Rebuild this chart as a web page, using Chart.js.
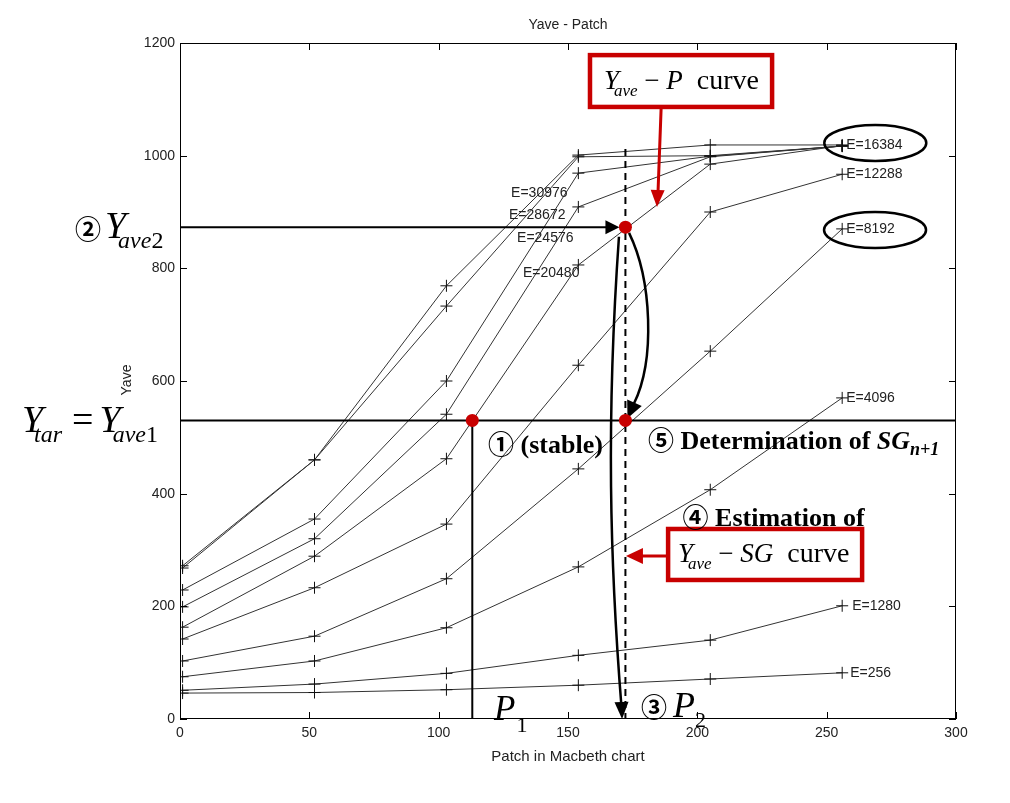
<!DOCTYPE html>
<html>
<head>
<meta charset="utf-8">
<script src="https://cdn.jsdelivr.net/npm/chart.js@4.4.0/dist/chart.umd.min.js"></script>
<style>
  html, body { margin: 0; padding: 0; background: #fff; }
</style>
</head>
<body>
<canvas id="chart" width="1010" height="803"></canvas>
<script>
// patch index in the Macbeth chart (x) and Yave per exposure (y)
const patches = [1, 52, 103, 154, 205, 256]
const exposures = [30976, 28672, 24576, 20480, 16384, 12288, 8192, 4096, 1280, 256]

const yaveE30976 = [272, 460, 769, 1001, 1019, 1019]
const yaveE28672 = [268, 460, 733, 998, 1000, 1017]
const yaveE24576 = [229, 355, 600, 969, 999, 1017]
const yaveE20480 = [199, 320, 541, 909, 998, 1017]
const yaveE16384 = [163, 289, 462, 806, 985, 1018]
const yaveE12288 = [142, 233, 346, 628, 900, 967]
const yaveE8192 = [103, 147, 249, 444, 653, 870]
const yaveE4096 = [75, 103, 162, 270, 407, 570]
const yaveE1280 = [51, 62, 81, 113, 140, 201]
const yaveE256 = [46, 47, 52, 60, 71, 82]

const xTicks = [0, 50, 100, 150, 200, 250, 300]
const yTicks = [0, 200, 400, 600, 800, 1000, 1200]

// values used by the hand drawn explanation
const yTar = 530
const yAve2 = 873
const p1 = 113
const p2 = 172.2

const seriesList = [yaveE30976, yaveE28672, yaveE24576, yaveE20480, yaveE16384,
  yaveE12288, yaveE8192, yaveE4096, yaveE1280, yaveE256]

const sans = "'Liberation Sans', Arial, sans-serif"
const serif = "'Liberation Serif', 'Times New Roman', serif"
const circ = "'Noto Sans CJK JP', 'DejaVu Sans', sans-serif"

// label placement: right labels sit after the last point, left ones float by the curves
const rightLabels = { 16384: 4, 12288: 4, 8192: 4, 4096: 4, 1280: 10, 256: 8 }
const leftLabels = [
  { e: 30976, x: 128.0, y: 934 },
  { e: 28672, x: 127.2, y: 895 },
  { e: 24576, x: 130.3, y: 854 },
  { e: 20480, x: 132.6, y: 792 }
]

function arrowHead(ctx, tx, ty, fx, fy, len, half, color) {
  const a = Math.atan2(ty - fy, tx - fx)
  const bx = tx - len * Math.cos(a), by = ty - len * Math.sin(a)
  ctx.save()
  ctx.fillStyle = color
  ctx.beginPath()
  ctx.moveTo(tx, ty)
  ctx.lineTo(bx + half * Math.sin(a), by - half * Math.cos(a))
  ctx.lineTo(bx - half * Math.sin(a), by + half * Math.cos(a))
  ctx.closePath()
  ctx.fill()
  ctx.restore()
}

function rich(ctx, x, y, parts) {
  let cx = x
  parts.forEach(p => {
    ctx.font = p.font
    cx += p.dx || 0
    ctx.fillText(p.t, cx, y + (p.dy || 0))
    cx += ctx.measureText(p.t).width
  })
}

const framePlugin = {
  id: 'frame',
  afterDatasetsDraw(chart) {
    const { ctx, chartArea: a, scales } = chart
    ctx.save()
    ctx.strokeStyle = '#000'
    ctx.lineWidth = 1
    ctx.strokeRect(a.left + 0.5, a.top + 0.5, a.right - a.left - 1, a.bottom - a.top - 1)
    ctx.beginPath()
    xTicks.forEach(v => {
      const px = Math.round(scales.x.getPixelForValue(v)) + 0.5
      ctx.moveTo(px, a.bottom); ctx.lineTo(px, a.bottom - 7)
      ctx.moveTo(px, a.top); ctx.lineTo(px, a.top + 7)
    })
    yTicks.forEach(v => {
      const py = Math.round(scales.y.getPixelForValue(v)) + 0.5
      ctx.moveTo(a.left, py); ctx.lineTo(a.left + 7, py)
      ctx.moveTo(a.right, py); ctx.lineTo(a.right - 7, py)
    })
    ctx.stroke()

    // title and axis titles
    ctx.fillStyle = '#222'
    ctx.textAlign = 'center'
    ctx.textBaseline = 'middle'
    ctx.font = '14px ' + sans
    ctx.fillText('Yave - Patch', (a.left + a.right) / 2, 25)
    ctx.font = '15px ' + sans
    ctx.fillText('Patch in Macbeth chart', (a.left + a.right) / 2, 757)
    ctx.save()
    ctx.translate(127, 380)
    ctx.rotate(-Math.PI / 2)
    ctx.font = '14px ' + sans
    ctx.fillText('Yave', 0, 0)
    ctx.restore()

    // E= labels
    ctx.textAlign = 'left'
    ctx.font = '14px ' + sans
    exposures.forEach((e, i) => {
      if (rightLabels[e] === undefined) return
      const pt = chart.getDatasetMeta(i).data[patches.length - 1]
      ctx.fillText('E=' + e, pt.x + rightLabels[e], pt.y)
    })
    leftLabels.forEach(l => {
      ctx.fillText('E=' + l.e, scales.x.getPixelForValue(l.x), scales.y.getPixelForValue(l.y))
    })
    ctx.restore()
  }
}

const notesPlugin = {
  id: 'notes',
  afterDraw(chart) {
    const { ctx, scales } = chart
    const X = v => scales.x.getPixelForValue(v)
    const Y = v => scales.y.getPixelForValue(v)
    const red = '#c80000'
    ctx.save()
    ctx.lineCap = 'butt'

    // target level and Yave2 arrow
    ctx.strokeStyle = '#000'
    ctx.lineWidth = 2
    ctx.beginPath()
    ctx.moveTo(X(0), Y(yTar)); ctx.lineTo(X(300), Y(yTar))
    ctx.moveTo(X(0), Y(yAve2)); ctx.lineTo(X(p2) - 14, Y(yAve2))
    ctx.moveTo(X(p1), Y(yTar)); ctx.lineTo(X(p1), Y(0))
    ctx.stroke()
    arrowHead(ctx, X(p2) - 6, Y(yAve2), X(0), Y(yAve2), 14, 7, '#000')

    // dashed P2 line
    ctx.setLineDash([7, 5])
    ctx.beginPath()
    ctx.moveTo(X(p2), Y(1012)); ctx.lineTo(X(p2), Y(0))
    ctx.stroke()
    ctx.setLineDash([])

    // long arrow down to P2
    ctx.lineWidth = 2.5
    ctx.beginPath()
    ctx.moveTo(X(169.7), Y(856))
    ctx.bezierCurveTo(X(164.7), Y(529), X(166.2), Y(280), X(170.7), Y(20))
    ctx.stroke()
    arrowHead(ctx, X(170.9), Y(0), X(170.2), Y(100), 17, 7, '#000')

    // estimation arrow back to target level
    ctx.beginPath()
    ctx.moveTo(X(173.6), Y(863))
    ctx.bezierCurveTo(X(182.5), Y(779), X(183.7), Y(637), X(175.5), Y(560))
    ctx.stroke()
    arrowHead(ctx, X(173.0), Y(534), X(178.5), Y(590), 17, 8, '#000')

    // red boxes and arrows
    ctx.strokeStyle = red
    ctx.lineWidth = 4.5
    ctx.strokeRect(X(158.5), Y(1178.5), X(228.9) - X(158.5), Y(1086.5) - Y(1178.5))
    ctx.strokeRect(X(188.7), Y(337.3), X(263.7) - X(188.7), Y(246.8) - Y(337.3))
    ctx.lineWidth = 3
    ctx.beginPath()
    ctx.moveTo(X(186.0), Y(1084)); ctx.lineTo(X(184.8), Y(935))
    ctx.moveTo(X(188.7), Y(289.4)); ctx.lineTo(X(177.5), Y(289.4))
    ctx.stroke()
    arrowHead(ctx, X(184.4), Y(909), X(186.0), Y(1084), 17, 7, red)
    arrowHead(ctx, X(172.4), Y(289.4), X(188.7), Y(289.4), 17, 8, red)

    // ellipses round two labels
    ctx.strokeStyle = '#000'
    ctx.lineWidth = 2.5
    ;[[268.8, 1022.5], [268.7, 868.1]].forEach(([cx, cy]) => {
      ctx.beginPath()
      ctx.ellipse(X(cx), Y(cy), 51, 18, 0, 0, Math.PI * 2)
      ctx.stroke()
    })

    // red points
    ctx.fillStyle = red
    ;[[p1, yTar], [p2, yAve2], [p2, yTar]].forEach(([x, y]) => {
      ctx.beginPath()
      ctx.arc(X(x), Y(y), 6.5, 0, Math.PI * 2)
      ctx.fill()
    })

    // texts
    ctx.fillStyle = '#000'
    ctx.textAlign = 'left'
    ctx.textBaseline = 'alphabetic'
    const it = s => 'italic ' + s + 'px ' + serif
    const rm = s => s + 'px ' + serif
    const bd = s => 'bold ' + s + 'px ' + serif
    const bi = s => 'italic bold ' + s + 'px ' + serif
    const ci = 'bold 26px ' + circ

    rich(ctx, X(-40.6), Y(853.7), [
      { t: '\u2461', font: ci, dy: 1 },
      { t: 'Y', font: it(38), dx: 4, dy: 0 },
      { t: 'ave', font: it(24), dx: -8, dy: 10 },
      { t: '2', font: rm(24), dy: 10 }
    ])
    rich(ctx, X(-61.1), Y(509.5), [
      { t: 'Y', font: it(38) },
      { t: 'tar', font: it(24), dx: -9, dy: 10 },
      { t: '=', font: rm(38), dx: 10 },
      { t: 'Y', font: it(38), dx: 6 },
      { t: 'ave', font: it(24), dx: -8, dy: 10 },
      { t: '1', font: rm(24), dy: 10 }
    ])
    rich(ctx, X(119.1), Y(472.2), [
      { t: '\u2460', font: ci, dy: 1 },
      { t: ' (stable)', font: bd(26) }
    ])
    rich(ctx, X(180.9), Y(479.3), [
      { t: '\u2464', font: ci, dy: 1 },
      { t: ' Determination of ', font: bd(26) },
      { t: 'SG', font: bi(26) },
      { t: 'n+1', font: bi(18), dy: 6 }
    ])
    rich(ctx, X(194.3), Y(342.6), [
      { t: '\u2463', font: ci, dy: 1 },
      { t: ' Estimation of', font: bd(26) }
    ])
    rich(ctx, X(163.9), Y(1118.4), [
      { t: 'Y', font: it(27) },
      { t: 'ave', font: it(17), dx: -5, dy: 7 },
      { t: ' \u2212 ', font: rm(27) },
      { t: 'P', font: it(27) },
      { t: '  curve', font: rm(28) }
    ])
    rich(ctx, X(192.5), Y(278.7), [
      { t: 'Y', font: it(27) },
      { t: 'ave', font: it(17), dx: -5, dy: 7 },
      { t: ' \u2212 ', font: rm(27) },
      { t: 'SG', font: it(27) },
      { t: '  curve', font: rm(28) }
    ])
    rich(ctx, X(121.4), Y(-1.8), [
      { t: 'P', font: it(35) },
      { t: '1', font: rm(22), dx: 1, dy: 12 }
    ])
    rich(ctx, X(178.2), Y(3.6), [
      { t: '\u2462', font: ci },
      { t: 'P', font: it(36), dx: 6 },
      { t: '2', font: rm(22), dx: 0, dy: 10 }
    ])
    ctx.restore()
  }
}

const ctx = document.getElementById('chart').getContext('2d')
new Chart(ctx, {
  type: 'line',
  data: {
    datasets: exposures.map((e, i) => ({
      label: 'E=' + e,
      data: patches.map((p, j) => ({ x: p, y: seriesList[i][j] })),
      borderColor: '#333',
      borderWidth: 1,
      pointStyle: 'cross',
      pointRadius: 6,
      pointBorderWidth: 1,
      pointBorderColor: '#111',
      pointBackgroundColor: '#111',
      tension: 0,
      fill: false
    }))
  },
  options: {
    responsive: false,
    animation: false,
    layout: { padding: { top: 43, right: 54, left: 0, bottom: 0 } },
    plugins: {
      legend: { display: false },
      title: { display: false },
      tooltip: { enabled: false }
    },
    scales: {
      x: {
        type: 'linear',
        min: 0,
        max: 300,
        afterBuildTicks: s => { s.ticks = xTicks.map(v => ({ value: v })) },
        afterFit: s => { s.height = 84 },
        grid: { display: false, drawTicks: false },
        border: { display: false },
        ticks: { color: '#222', font: { family: sans, size: 14 }, padding: 6, maxRotation: 0, callback: v => String(v) }
      },
      y: {
        min: 0,
        max: 1200,
        afterBuildTicks: s => { s.ticks = yTicks.map(v => ({ value: v })) },
        afterFit: s => { s.width = 180 },
        grid: { display: false, drawTicks: false },
        border: { display: false },
        ticks: { color: '#222', font: { family: sans, size: 14 }, padding: 5, callback: v => String(v) }
      }
    }
  },
  plugins: [framePlugin, notesPlugin]
})
</script>
</body>
</html>
